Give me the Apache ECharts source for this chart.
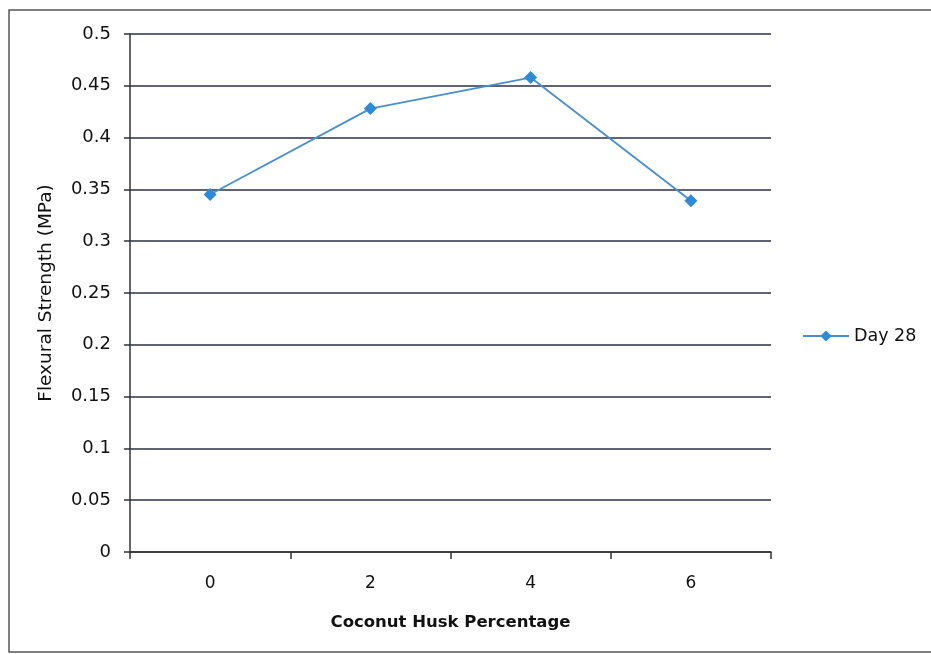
<!DOCTYPE html>
<html>
<head>
<meta charset="utf-8">
<script src="https://cdn.jsdelivr.net/npm/echarts@6/dist/echarts.min.js"></script>
<style>
html,body{margin:0;padding:0;background:#fff;}
#chart{width:931px;height:654px;}
</style>
</head>
<body>
<div id="chart"></div>
<script>
const categories = ['0', '2', '4', '6'];
const day28 = [0.345, 0.428, 0.458, 0.339];
const seriesName = 'Day 28';
const xTitle = 'Coconut Husk Percentage';
const yTitle = 'Flexural Strength (MPa)';

const chart = echarts.init(document.getElementById('chart'));
const font = 'DejaVu Sans, Verdana, sans-serif';
chart.setOption({
  animation: false,
  backgroundColor: '#ffffff',
  graphic: [{
    type: 'rect',
    shape: { x: 9, y: 10, width: 940, height: 642 },
    style: { fill: 'none', stroke: '#555', lineWidth: 1.5 },
    silent: true
  }],
  grid: { left: 130, right: 160, top: 34, bottom: 102 },
  legend: {
    data: [seriesName],
    orient: 'vertical',
    left: 797,
    top: 322,
    itemWidth: 46,
    itemHeight: 14,
    itemGap: 7,
    textStyle: { fontFamily: font, fontSize: 17.5, color: '#111' }
  },
  xAxis: {
    type: 'category',
    data: categories,
    boundaryGap: true,
    name: xTitle,
    nameLocation: 'middle',
    nameGap: 62,
    nameTextStyle: { fontFamily: font, fontSize: 16.5, fontWeight: 'bold', color: '#111' },
    axisLine: { lineStyle: { color: '#333', width: 1.5 } },
    axisTick: { show: true, length: 7, lineStyle: { color: '#333', width: 1.5 } },
    axisLabel: { fontFamily: font, fontSize: 17, color: '#111', margin: 23 },
    splitLine: { show: false }
  },
  yAxis: {
    type: 'value',
    min: 0,
    max: 0.5,
    interval: 0.05,
    name: yTitle,
    nameLocation: 'middle',
    nameGap: 74,
    nameTextStyle: { fontFamily: font, fontSize: 18.5, color: '#111' },
    axisLine: { show: true, lineStyle: { color: '#333', width: 1.5 } },
    axisTick: { show: true, length: 6, lineStyle: { color: '#333', width: 1.5 } },
    axisLabel: { fontFamily: font, fontSize: 18, color: '#111', margin: 19 },
    splitLine: { show: true, lineStyle: { color: '#2b2f45', width: 1.5 } }
  },
  series: [{
    name: seriesName,
    type: 'line',
    data: day28,
    symbol: 'diamond',
    symbolSize: 13,
    itemStyle: { color: '#2f8ad4' },
    lineStyle: { color: '#4a8fcc', width: 1.8 }
  }]
});
</script>
</body>
</html>
